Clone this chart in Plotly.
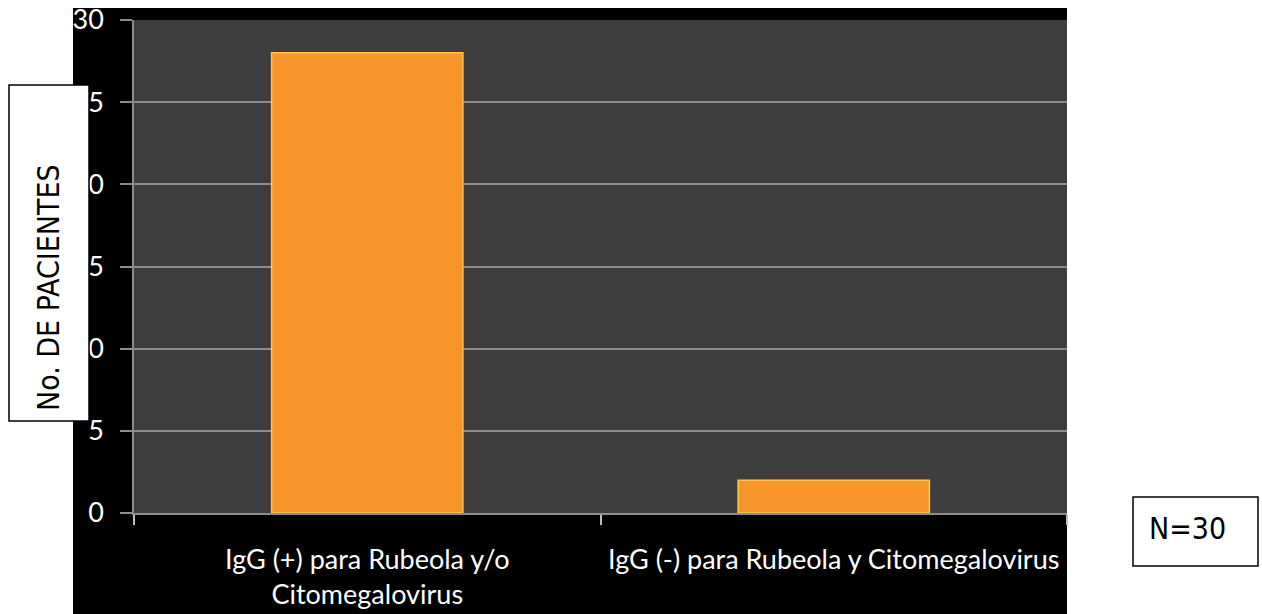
import plotly.graph_objects as go

categories = ["IgG (+) para Rubeola y/o<br>Citomegalovirus",
              "IgG (-) para Rubeola y Citomegalovirus"]
pacientes = [28, 2]
y_ticks = [0, 5, 10, 15, 20, 25, 30]
y_label = "No. DE PACIENTES"
n_label = "N=30"

W, H = 1262, 614
L = 134
T = 20
R = W - 1067
B = H - 513
pw, ph = W - L - R, H - T - B

def px(x):
    return (x - L) / pw

def py(y):
    return (H - B - y) / ph

narrow = "Liberation Sans Narrow, DejaVu Sans Condensed, Arial Narrow, Roboto, sans-serif"
tickfont = "Lato, Open Sans, sans-serif"

fig = go.Figure()
fig.add_trace(go.Bar(
    x=categories, y=pacientes, width=0.41,
    marker=dict(color="#F7942A", line=dict(color="#FFC845", width=1.5)),
    hoverinfo="skip",
))

shapes = [
    dict(type="rect", xref="paper", yref="paper", layer="below",
         x0=px(73), x1=1, y0=py(620), y1=py(8),
         fillcolor="#000000", line=dict(width=0)),
    dict(type="rect", xref="paper", yref="paper", layer="below",
         x0=0, x1=1, y0=0, y1=1,
         fillcolor="#3d3d3d", line=dict(width=0)),
    dict(type="rect", xref="paper", yref="paper", layer="above",
         x0=px(9), x1=px(89), y0=py(421), y1=py(85),
         fillcolor="#ffffff", line=dict(color="#000000", width=1.5)),
    dict(type="rect", xref="paper", yref="paper", layer="above",
         x0=px(1133), x1=px(1258), y0=py(566), y1=py(497),
         fillcolor="#ffffff", line=dict(color="#000000", width=1.5)),
]

annotations = [
    dict(text=y_label, xref="paper", yref="paper", x=px(49), y=py(288),
         xanchor="center", yanchor="middle",
         textangle=-90, showarrow=False,
         font=dict(family=narrow, size=30, color="#000000")),
    dict(text=n_label, xref="paper", yref="paper", x=px(1187), y=py(528),
         xanchor="center", yanchor="middle",
         showarrow=False,
         font=dict(family=narrow, size=30, color="#000000")),
]

fig.update_layout(
    width=W, height=H,
    margin=dict(l=L, r=R, t=T, b=B, pad=0, autoexpand=False),
    paper_bgcolor="#ffffff",
    plot_bgcolor="rgba(0,0,0,0)",
    showlegend=False,
    shapes=shapes,
    annotations=annotations,
)
fig.update_yaxes(
    range=[0, 30], tickvals=y_ticks, ticktext=[str(v) for v in y_ticks],
    showgrid=True, gridcolor="#8c8c8c", gridwidth=1.5,
    zeroline=False, showline=True, linecolor="#8c8c8c", linewidth=1.5,
    ticks="outside", ticklen=12, tickcolor="#8c8c8c", tickwidth=1.5,
    ticklabelstandoff=11, ticklabeloverflow="allow",
    tickfont=dict(family=tickfont, size=27, color="#ffffff"),
)
fig.update_xaxes(
    showgrid=False, showline=True, linecolor="#8c8c8c", linewidth=1.5,
    ticks="outside", tickson="boundaries", ticklen=10, tickcolor="#bbbbbb",
    tickwidth=1.5, ticklabelstandoff=22, ticklabeloverflow="allow",
    tickfont=dict(family=tickfont, size=27, color="#ffffff"),
)

fig.write_html(
    "out.html",
    config={"displayModeBar": False},
    post_script="document.body.style.margin='0';document.body.style.overflow='hidden';",
)
